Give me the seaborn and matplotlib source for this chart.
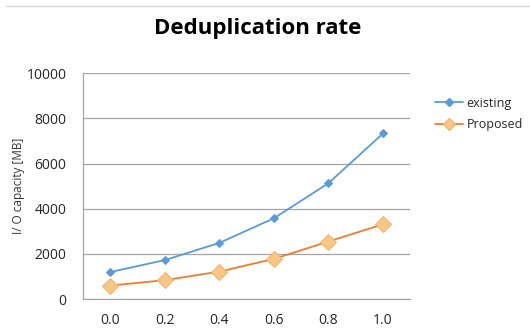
import pandas as pd
import seaborn as sns
import matplotlib.pyplot as plt
from matplotlib.lines import Line2D

rates = [0.0, 0.2, 0.4, 0.6, 0.8, 1.0]
existing = [1200, 1730, 2490, 3580, 5130, 7330]
proposed = [600, 840, 1220, 1780, 2550, 3310]
y_ticks = [0, 2000, 4000, 6000, 8000, 10000]

df = pd.DataFrame({
    "rate": rates * 2,
    "capacity": existing + proposed,
    "method": ["existing"] * len(rates) + ["Proposed"] * len(rates),
})

sns.set_style("white")
plt.rcParams['font.family'] = ['Open Sans', 'DejaVu Sans']

fig = plt.figure(figsize=(5.3, 3.28), dpi=100)
ax = fig.add_axes([0.157, 0.088, 0.617, 0.689])

blue = "#5B9BD5"
orange = "#ED7D31"
sns.lineplot(data=df[df.method == "existing"], x="rate", y="capacity", ax=ax,
             color=blue, lw=1.3, marker="D", markersize=4.5,
             markerfacecolor=blue, markeredgecolor=blue)
sns.lineplot(data=df[df.method == "Proposed"], x="rate", y="capacity", ax=ax,
             color=orange, lw=1.3, marker="D", markersize=8.5,
             markerfacecolor="#F6C785", markeredgecolor="#EDB777", markeredgewidth=0.8)

ax.set_xlim(-0.1, 1.1)
ax.set_ylim(0, 10000)
ax.set_xticks(rates)
ax.set_xticklabels([f"{r:.1f}" for r in rates], fontsize=10, color="#262626")
ax.set_yticks(y_ticks)
ax.set_yticklabels([str(t) for t in y_ticks], fontsize=10, color="#262626")
ax.tick_params(axis="y", length=0, pad=12)
ax.tick_params(axis="x", length=0, pad=10)
ax.yaxis.grid(True, color="#A6A6A6", lw=0.9)
ax.set_axisbelow(True)
for s in ["top", "right"]:
    ax.spines[s].set_visible(False)
for s in ["left", "bottom"]:
    ax.spines[s].set_color("#A6A6A6")
    ax.spines[s].set_linewidth(0.9)
ax.set_xlabel("")
ax.set_ylabel("I/ O capacity [MB]", fontsize=8.5, color="#333333", labelpad=1)

fig.suptitle("Deduplication rate", x=0.487, y=0.945, fontsize=16,
             fontweight="bold", color="black")

handles = [
    Line2D([], [], color=blue, lw=1.3, marker="D", markersize=4, markerfacecolor=blue),
    Line2D([], [], color=orange, lw=1.3, marker="D", markersize=6,
           markerfacecolor="#F6C785", markeredgecolor="#EDB777"),
]
fig.legend(handles, ["existing", "Proposed"], loc="upper left",
           bbox_to_anchor=(0.8, 0.74), frameon=False, fontsize=9,
           handlelength=2.2, handletextpad=0.3, labelspacing=0.7)

fig.add_artist(Line2D([0.012, 1.0], [0.982, 0.982], color="#D9D9D9", lw=1))

fig.savefig("out.png", dpi=100)
